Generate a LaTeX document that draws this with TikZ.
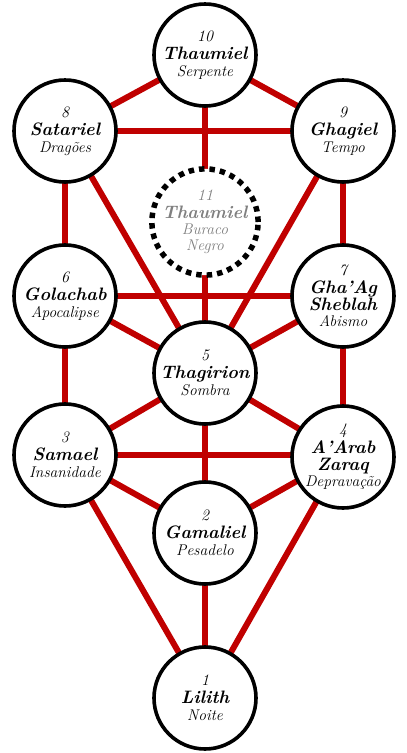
\documentclass[tikz,border=0pt]{standalone}
\usepackage{fontspec}
\setmainfont{Latin Modern Roman}
\definecolor{pathred}{RGB}{192,0,0}
\definecolor{ghost}{RGB}{128,128,128}
\newcommand{\numtxt}[1]{{\fontsize{16}{18}\selectfont\itshape #1}}
\newcommand{\nametxt}[1]{{\fontsize{18}{18}\selectfont\bfseries\itshape #1}}
\newcommand{\subtxt}[1]{{\fontsize{15.5}{18}\selectfont\itshape #1}}
\begin{document}
\begin{tikzpicture}[x=1pt,y=-1pt,
  sephira/.style={circle,draw=black,line width=3.6pt,fill=white,minimum size=102pt,inner sep=0pt,align=center,text=black,font=\fontsize{16}{18}\selectfont},
  hidden/.style={sephira,dash pattern=on 5.5pt off 5pt,line width=5.5pt,text=ghost},
  path22/.style={draw=pathred,line width=6pt}]
\useasboundingbox (0,0) rectangle (407,753);
\fill[white] (0,0) rectangle (407,753);
\coordinate (p10) at (205,55);
\coordinate (p8) at (65,131);
\coordinate (p9) at (343,131);
\coordinate (p11) at (205,222);
\coordinate (p6) at (65,296);
\coordinate (p7) at (343,296);
\coordinate (p5) at (205,373);
\coordinate (p3) at (65,455);
\coordinate (p4) at (343,455);
\coordinate (p2) at (205,533);
\coordinate (p1) at (205,698);
\foreach \a/\b in {p10/p8,p10/p9,p10/p5,p8/p9,p8/p6,p8/p5,p9/p7,p9/p5,p6/p7,p6/p5,p7/p5,p6/p3,p7/p4,p5/p3,p5/p4,p5/p2,p3/p4,p3/p2,p4/p2,p3/p1,p4/p1,p2/p1}
  \draw[path22] (\a) -- (\b);
\node[sephira] (n10) at (p10) {\numtxt{10}\\\nametxt{Thaumiel}\\[-1pt]\subtxt{Serpente}};
\node[sephira] (n8) at (p8) {\numtxt{8}\\\nametxt{Satariel}\\[-1pt]\subtxt{Dragões}};
\node[sephira] (n9) at (p9) {\numtxt{9}\\\nametxt{Ghagiel}\\[-1pt]\subtxt{Tempo}};
\node[hidden] (n11) at (p11) {\numtxt{11}\\\nametxt{Thaumiel}\\[-2pt]\subtxt{Buraco}\\[-2pt]\subtxt{Negro}};
\node[sephira] (n6) at (p6) {\numtxt{6}\\\nametxt{Golachab}\\[-1pt]\subtxt{Apocalipse}};
\node[sephira] (n7) at (p7) {\numtxt{7}\\\nametxt{Gha’Ag}\\[-1pt]\nametxt{Sheblah}\\[-2pt]\subtxt{Abismo}};
\node[sephira] (n5) at (p5) {\numtxt{5}\\\nametxt{Thagirion}\\[-1pt]\subtxt{Sombra}};
\node[sephira] (n3) at (p3) {\numtxt{3}\\\nametxt{Samael}\\[-1pt]\subtxt{Insanidade}};
\node[sephira] (n4) at ([yshift=-2pt]p4) {\numtxt{4}\\[1pt]\nametxt{A’Arab}\\[-1pt]\nametxt{Zaraq}\\[-2pt]\subtxt{Depravação}};
\node[sephira] (n2) at (p2) {\numtxt{2}\\\nametxt{Gamaliel}\\[-1pt]\subtxt{Pesadelo}};
\node[sephira] (n1) at (p1) {\numtxt{1}\\\nametxt{Lilith}\\[-1pt]\subtxt{Noite}};
\end{tikzpicture}
\end{document}
